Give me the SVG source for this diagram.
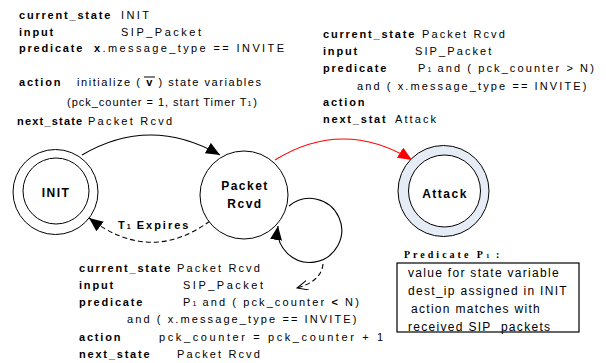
<svg xmlns="http://www.w3.org/2000/svg" width="606" height="363" viewBox="0 0 606 363">
  <style>
    text { font-family: "Liberation Sans", Arial, sans-serif; font-size: 11px; fill: #000; }
    .b { font-weight: bold; letter-spacing: 1.8px; }
    .r { letter-spacing: 2.1px; }
    .lbl { font-weight: bold; font-size: 12px; letter-spacing: 1.5px; text-anchor: middle; }
    .box { font-size: 12px; letter-spacing: 1.3px; }
    .ser { font-family: "Liberation Serif", "Times New Roman", serif; font-weight: bold; font-size: 10px; letter-spacing: 3px; }
    .sub { font-size: 7px; letter-spacing: 1px; }
    .ring { fill: #fff; stroke: #000; stroke-width: 1; }
    .edge { fill: none; stroke: #000; stroke-width: 1.1; }
  </style>
  <defs>
    <marker id="arrow" markerUnits="userSpaceOnUse" markerWidth="16" markerHeight="14" refX="14" refY="6" orient="auto">
      <path d="M0,0 L14,6 L0,12 z" fill="#000"/>
    </marker>
    <marker id="arrowRed" markerUnits="userSpaceOnUse" markerWidth="16" markerHeight="14" refX="14" refY="6" orient="auto">
      <path d="M0,0 L14,6 L0,12 z" fill="#ff0000"/>
    </marker>
    <marker id="arrowOpen" markerUnits="userSpaceOnUse" markerWidth="14" markerHeight="12" refX="11" refY="5" orient="auto">
      <path d="M0,0 L11,5 L0,10" fill="none" stroke="#000" stroke-width="1"/>
    </marker>
  </defs>

  <!-- transition from INIT -->
  <g id="label-init-transition">
    <text x="19" y="19" class="b">current_state</text>
    <text x="121" y="19" textLength="28">INIT</text>
    <text x="19" y="36" class="b">input</text>
    <text x="121" y="36" textLength="80">SIP_Packet</text>
    <text x="19" y="52" class="b">predicate</text>
    <text x="94" y="52" textLength="190"><tspan font-weight="bold">x</tspan>.message_type == INVITE</text>
    <text x="19" y="86" class="b">action</text>
    <text x="77" y="86" textLength="184">initialize ( <tspan font-weight="bold">v</tspan> ) state variables</text>
    <line x1="144" y1="77" x2="155" y2="77" stroke="#000" stroke-width="1"/>
    <text x="67" y="106" textLength="190">(pck_counter = 1, start Timer T<tspan class="sub">1</tspan>)</text>
    <text x="17" y="125" class="b" style="letter-spacing:1.2px">next_state</text>
    <text x="88" y="125" textLength="84">Packet Rcvd</text>
  </g>

  <!-- transition to Attack -->
  <g id="label-attack-transition">
    <text x="323" y="38" class="b">current_state</text><text x="422" y="38" class="r">Packet Rcvd</text>
    <text x="323" y="55" class="b">input</text><text x="415" y="55" class="r">SIP_Packet</text>
    <text x="323" y="72" class="b">predicate</text>
    <text x="418" y="72" class="r">P<tspan class="sub">1</tspan> and ( pck_counter &gt; N)</text>
    <text x="357" y="90" class="r">and ( x.message_type == INVITE)</text>
    <text x="323" y="106" class="b">action</text>
    <text x="323" y="123" class="b">next_stat</text><text x="395" y="123" class="r">Attack</text>
  </g>

  <!-- self transition on Packet Rcvd -->
  <g id="label-loop-transition">
    <text x="79" y="272" class="b">current_state</text><text x="177" y="272" class="r">Packet Rcvd</text>
    <text x="79" y="289" class="b">input</text><text x="183" y="289" textLength="80">SIP_Packet</text>
    <text x="79" y="306" class="b">predicate</text>
    <text x="183" y="306" class="r">P<tspan class="sub">1</tspan> and ( pck_counter <tspan font-weight="bold">&lt;</tspan> N)</text>
    <text x="127" y="323" class="r">and ( x.message_type == INVITE)</text>
    <text x="79" y="341" class="b">action</text><text x="159" y="341" textLength="224">pck_counter = pck_counter + 1</text>
    <text x="79" y="358" class="b">next_state</text><text x="177" y="358" class="r">Packet Rcvd</text>
  </g>

  <!-- predicate note -->
  <g id="note-p1">
    <text x="404" y="258" class="ser">Predicate P<tspan font-size="7px" letter-spacing="1px">1</tspan> :</text>
    <rect x="397" y="263" width="182" height="69" fill="none" stroke="#000" stroke-width="1.2"/>
    <text x="408" y="277" class="box">value for state variable</text>
    <text x="408" y="295" class="box">dest_ip assigned in INIT</text>
    <text x="411" y="313" class="box">action matches with</text>
    <text x="408" y="331" class="box">received SIP&#160; packets</text>
  </g>

  <!-- connectors -->
  <g id="connectors">
    <path class="edge" d="M82,155 Q150,115 220,155" marker-end="url(#arrow)"/>
    <path d="M275,160 Q343,118 412,160" fill="none" stroke="#ff0000" stroke-width="1.1" marker-end="url(#arrowRed)"/>
    <path class="edge" d="M210,221 Q150,265 89,218" stroke-dasharray="5,3" marker-end="url(#arrow)"/>
    <path class="edge" d="M289,206 A32,32 0 1 1 278,226" marker-end="url(#arrow)"/>
    <path class="edge" d="M323,264 C322,276 312,284 297,288" stroke-dasharray="5,3" marker-end="url(#arrowOpen)"/>
    <text x="118" y="229" class="b" font-size="12px" style="letter-spacing:2px">T<tspan class="sub">1</tspan> Expires</text>
  </g>

  <!-- states -->
  <g id="node-init">
    <circle cx="55.5" cy="192" r="42.5" class="ring"/>
    <circle cx="56" cy="191" r="33" class="ring"/>
    <text x="56" y="197" class="lbl">INIT</text>
  </g>
  <g id="node-packet-rcvd">
    <circle cx="244" cy="195" r="44" class="ring"/>
    <text x="245" y="190" class="lbl">Packet</text>
    <text x="245" y="208" class="lbl">Rcvd</text>
  </g>
  <g id="node-attack">
    <circle cx="443.5" cy="191" r="45.5" fill="#e6ecf6" stroke="#000" stroke-width="1"/>
    <circle cx="444.5" cy="191" r="36" class="ring"/>
    <text x="445" y="198" class="lbl">Attack</text>
  </g>
</svg>
